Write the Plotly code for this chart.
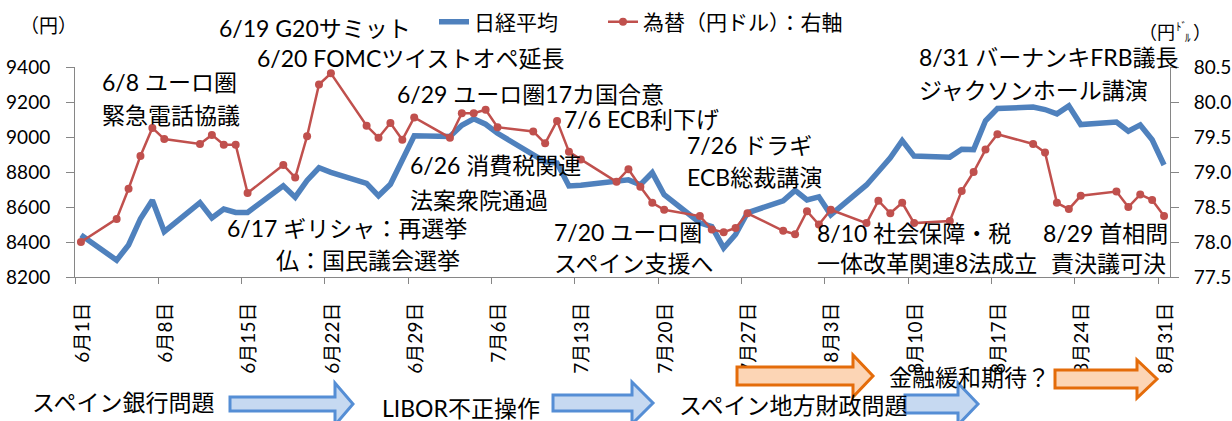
import plotly.graph_objects as go
import pandas as pd

# ---------------- data ----------------
nikkei_dates = [
    "2012-06-01", "2012-06-04", "2012-06-05", "2012-06-06", "2012-06-07", "2012-06-08",
    "2012-06-11", "2012-06-12", "2012-06-13", "2012-06-14", "2012-06-15",
    "2012-06-18", "2012-06-19", "2012-06-20", "2012-06-21", "2012-06-22",
    "2012-06-25", "2012-06-26", "2012-06-27", "2012-06-28", "2012-06-29",
    "2012-07-02", "2012-07-03", "2012-07-04", "2012-07-05", "2012-07-06",
    "2012-07-09", "2012-07-10", "2012-07-11", "2012-07-12", "2012-07-13",
    "2012-07-17", "2012-07-18", "2012-07-19", "2012-07-20",
    "2012-07-23", "2012-07-24", "2012-07-25", "2012-07-26", "2012-07-27",
    "2012-07-30", "2012-07-31", "2012-08-01", "2012-08-02", "2012-08-03",
    "2012-08-06", "2012-08-07", "2012-08-08", "2012-08-09", "2012-08-10",
    "2012-08-13", "2012-08-14", "2012-08-15", "2012-08-16", "2012-08-17",
    "2012-08-20", "2012-08-21", "2012-08-22", "2012-08-23", "2012-08-24",
    "2012-08-27", "2012-08-28", "2012-08-29", "2012-08-30", "2012-08-31",
]
nikkei_values = [
    8440, 8296, 8383, 8533, 8639, 8459,
    8625, 8537, 8588, 8569, 8569,
    8721, 8656, 8752, 8824, 8798,
    8735, 8664, 8730, 8873, 9007,
    9003, 9067, 9104, 9073, 9021,
    8897, 8858, 8851, 8720, 8724,
    8755, 8727, 8796, 8670,
    8510, 8488, 8366, 8443, 8567,
    8635, 8695, 8640, 8658, 8555,
    8726, 8803, 8881, 8979, 8891,
    8885, 8930, 8928, 9093, 9163,
    9171, 9157, 9132, 9178, 9071,
    9085, 9033, 9069, 8984, 8840,
]

fx_dates = [
    "2012-06-01", "2012-06-04", "2012-06-05", "2012-06-06", "2012-06-07", "2012-06-08",
    "2012-06-11", "2012-06-12", "2012-06-13", "2012-06-14", "2012-06-15",
    "2012-06-18", "2012-06-19", "2012-06-20", "2012-06-21", "2012-06-22",
    "2012-06-25", "2012-06-26", "2012-06-27", "2012-06-28", "2012-06-29",
    "2012-07-02", "2012-07-03", "2012-07-04", "2012-07-05", "2012-07-06",
    "2012-07-09", "2012-07-10", "2012-07-11", "2012-07-12", "2012-07-13",
    "2012-07-16", "2012-07-17", "2012-07-18", "2012-07-19", "2012-07-20",
    "2012-07-23", "2012-07-24", "2012-07-25", "2012-07-26", "2012-07-27",
    "2012-07-30", "2012-07-31", "2012-08-01", "2012-08-02", "2012-08-03",
    "2012-08-06", "2012-08-07", "2012-08-08", "2012-08-09", "2012-08-10",
    "2012-08-13", "2012-08-14", "2012-08-15", "2012-08-16", "2012-08-17",
    "2012-08-20", "2012-08-21", "2012-08-22", "2012-08-23", "2012-08-24",
    "2012-08-27", "2012-08-28", "2012-08-29", "2012-08-30", "2012-08-31",
]
fx_values = [
    78.00, 78.33, 78.76, 79.23, 79.63, 79.47,
    79.40, 79.53, 79.39, 79.39, 78.70,
    79.10, 78.92, 79.51, 80.25, 80.41,
    79.66, 79.49, 79.70, 79.46, 79.78,
    79.49, 79.84, 79.84, 79.89, 79.64,
    79.58, 79.41, 79.73, 79.29, 79.18,
    78.86, 79.04, 78.79, 78.56, 78.46,
    78.37, 78.18, 78.14, 78.20, 78.41,
    78.16, 78.11, 78.44, 78.25, 78.46,
    78.27, 78.59, 78.41, 78.56, 78.27,
    78.30, 78.73, 79.00, 79.32, 79.54,
    79.40, 79.28, 78.56, 78.47, 78.66,
    78.72, 78.50, 78.68, 78.60, 78.37,
]

tick_dates = ["2012-06-01", "2012-06-08", "2012-06-15", "2012-06-22", "2012-06-29",
              "2012-07-06", "2012-07-13", "2012-07-20", "2012-07-27", "2012-08-03",
              "2012-08-10", "2012-08-17", "2012-08-24", "2012-08-31"]
tick_labels = ["6月1日", "6月8日", "6月15日", "6月22日", "6月29日",
               "7月6日", "7月13日", "7月20日", "7月27日", "8月3日",
               "8月10日", "8月17日", "8月24日", "8月31日"]

series_names = ["日経平均", "為替（円ドル）：右軸"]

# ---------------- layout helpers ----------------
W, H = 1232, 421
PL, PR, PT, PB = 75, 1170, 67, 277   # plot area in pixels


def px(x):
    return (x - PL) / (PR - PL)


def py(y):
    return (PB - y) / (PB - PT)


FONT = "Lato, 'Noto Sans CJK JP', sans-serif"
BLUE = "#4F81BD"
RED = "#C0504D"
AXIS = "#868686"

half_day = pd.Timedelta(hours=12)
nx = pd.to_datetime(nikkei_dates) + half_day
fx = pd.to_datetime(fx_dates) + half_day
tick_pos = pd.to_datetime(tick_dates)
label_pos = tick_pos + pd.Timedelta(hours=15)   # labels sit slightly right of tick marks
x_range = ["2012-06-01", "2012-09-01"]

fig = go.Figure()
fig.add_trace(go.Scatter(
    x=nx, y=nikkei_values, name=series_names[0], mode="lines",
    line=dict(color=BLUE, width=5.5), yaxis="y", legend="legend",
))
fig.add_trace(go.Scatter(
    x=fx, y=fx_values, name=series_names[1], mode="lines+markers",
    line=dict(color=RED, width=2.5), marker=dict(color=RED, size=8),
    yaxis="y2", legend="legend2",
))
# empty helper trace so the label-only date axis (x2) is drawn
fig.add_trace(go.Scatter(x=[], y=[], xaxis="x2", yaxis="y", showlegend=False,
                         hoverinfo="skip", mode="lines"))

# annotations (text, x pixel, y pixel center, anchor)
notes = [
    ("6/19 G20サミット", 217, 28, "left"),
    ("6/20 FOMCツイストオペ延長", 255, 58, "left"),
    ("6/8 ユーロ圏", 100, 82, "left"),
    ("緊急電話協議", 100, 115, "left"),
    ("6/29 ユーロ圏17カ国合意", 395, 94, "left"),
    ("7/6 ECB利下げ", 562, 119, "left"),
    ("7/26 ドラギ", 685, 145, "left"),
    ("ECB総裁講演", 685, 177, "left"),
    ("6/26 消費税関連", 408, 165, "left"),
    ("法案衆院通過", 408, 200, "left"),
    ("6/17 ギリシャ：再選挙", 225, 228, "left"),
    ("仏：国民議会選挙", 274, 260, "left"),
    ("7/20 ユーロ圏", 552, 232, "left"),
    ("スペイン支援へ", 552, 263, "left"),
    ("8/10 社会保障・税", 815, 233, "left"),
    ("一体改革関連8法成立", 815, 263, "left"),
    ("8/29 首相問", 1170, 233, "right"),
    ("責決議可決", 1168, 263, "right"),
    ("8/31 バーナンキFRB議長", 917, 57, "left"),
    ("ジャクソンホール講演", 917, 90, "left"),
    ("スペイン銀行問題", 30, 402, "left"),
    ("LIBOR不正操作", 380, 408, "left"),
    ("スペイン地方財政問題", 677, 405, "left"),
    ("金融緩和期待？", 887, 377, "left"),
]
annotations = []
for text, x, y, anc in notes:
    annotations.append(dict(
        text=text, x=px(x), y=py(y), xref="paper", yref="paper",
        xanchor=anc, yanchor="middle", showarrow=False,
        font=dict(family=FONT, size=23, color="black"),
    ))

# axis unit labels
units = [
    ("（円）", 18, 25, 19),
    ("（円", 1137, 32, 18),
    ("ﾄﾞ", 1174, 26, 11),
    ("ﾙ", 1183, 37, 11),
    ("）", 1191, 32, 18),
]
for text, x, y, size in units:
    annotations.append(dict(text=text, x=px(x), y=py(y), xref="paper", yref="paper",
                            xanchor="left", yanchor="middle", showarrow=False,
                            font=dict(family=FONT, size=size, color="black")))


def arrow(x0, xh, xt, yc, bh, hh, fill, line):
    pts = [(x0, yc - bh), (xh, yc - bh), (xh, yc - hh), (xt, yc),
           (xh, yc + hh), (xh, yc + bh), (x0, yc + bh)]
    path = "M " + " L ".join(f"{px(a):.5f},{py(b):.5f}" for a, b in pts) + " Z"
    return dict(type="path", path=path, xref="paper", yref="paper",
                fillcolor=fill, line=dict(color=line, width=3), layer="above")


BFILL, BLINE = "#C6D9F1", "#558ED5"
OFILL, OLINE = "#FCD5B5", "#E46C0A"
shapes = [
    arrow(230, 335, 353, 404, 7, 21, BFILL, BLINE),
    arrow(553, 632, 653, 403, 8, 21, BFILL, BLINE),
    arrow(905, 958, 978, 404, 9, 21, BFILL, BLINE),
    arrow(737, 853, 873, 376, 9, 21, OFILL, OLINE),
    arrow(1055, 1137, 1157, 379, 9, 19, OFILL, OLINE),
]

legend_common = dict(orientation="h", xref="container", yref="container",
                     xanchor="left", yanchor="middle",
                     font=dict(family=FONT, size=21, color="black"),
                     bgcolor="rgba(0,0,0,0)", borderwidth=0)

fig.update_layout(
    width=W, height=H,
    margin=dict(l=PL, r=W - PR, t=PT, b=H - PB, autoexpand=False),
    paper_bgcolor="white", plot_bgcolor="white",
    font=dict(family=FONT, size=19, color="black"),
    showlegend=True,
    legend=dict(x=434 / W, y=1 - 22 / H, **legend_common),
    legend2=dict(x=603 / W, y=1 - 22 / H, **legend_common),
    xaxis=dict(
        type="date", range=x_range,
        tickvals=tick_pos, showticklabels=False,
        ticks="outside", ticklen=6, tickcolor=AXIS,
        showline=True, linecolor=AXIS, linewidth=1, showgrid=False,
        zeroline=False, automargin=False,
    ),
    xaxis2=dict(
        type="date", range=x_range, overlaying="x", anchor="y", side="bottom",
        tickvals=label_pos, ticktext=tick_labels, tickangle=-90,
        ticks="outside", ticklen=6, tickcolor="rgba(0,0,0,0)",
        showline=False, showgrid=False, zeroline=False, automargin=False,
        ticklabelstandoff=11,
        tickfont=dict(family=FONT, size=19, color="black"),
    ),
    yaxis=dict(
        range=[8200, 9400], dtick=200, tick0=8200, ticks="outside", ticklen=8,
        tickcolor=AXIS, showline=True, linecolor=AXIS, linewidth=1,
        showgrid=False, zeroline=False, ticklabelstandoff=12, automargin=False,
        tickfont=dict(family=FONT, size=19, color="black"),
    ),
    yaxis2=dict(
        range=[77.5, 80.5], dtick=0.5, tick0=77.5, tickformat=".1f",
        overlaying="y", side="right", ticks="outside", ticklen=8,
        tickcolor=AXIS, showline=True, linecolor=AXIS, linewidth=1,
        showgrid=False, zeroline=False, ticklabelstandoff=11, automargin=False,
        tickfont=dict(family=FONT, size=19, color="black"),
    ),
    annotations=annotations,
    shapes=shapes,
)

fig.write_html("out.html", config={"displayModeBar": False},
               post_script="document.body.style.margin='0';document.body.style.padding='0';")
